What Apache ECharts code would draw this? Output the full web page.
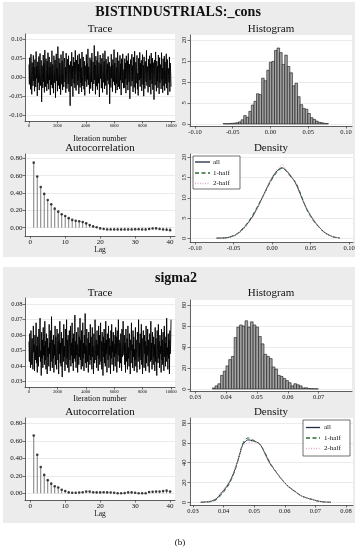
<!DOCTYPE html>
<html><head><meta charset="utf-8">
<script src="https://cdn.jsdelivr.net/npm/echarts@6/dist/echarts.min.js"></script>
<style>html,body{margin:0;padding:0;background:#fff}#c{width:358px;height:550px}</style>
</head><body><div id="c"></div>
<script>
// ---------------- DATA ----------------
const traceIterMax = 10000;
const trace1 = [
0.034,-0.018,0.052,0.006,-0.031,0.061,0.015,-0.044,0.039,0.008,
-0.022,0.058,-0.009,0.027,-0.036,0.047,0.011,-0.025,0.068,-0.002,
0.029,-0.048,0.041,0.018,-0.013,0.055,-0.033,0.024,0.063,-0.021,
0.007,0.045,-0.064,0.031,0.013,-0.027,0.059,-0.011,0.037,-0.039,
0.072,0.003,-0.024,0.049,0.021,-0.035,0.043,-0.016,0.065,0.009,
-0.031,0.054,-0.006,0.028,-0.046,0.040,0.016,-0.019,0.070,-0.028,
0.034,0.010,-0.041,0.057,0.019,-0.014,0.046,-0.053,0.030,0.062,
-0.009,0.025,-0.036,0.081,0.006,-0.021,0.050,-0.030,0.038,0.014,
-0.045,0.060,0.004,-0.018,0.044,-0.033,0.069,0.012,-0.025,0.036,
0.051,-0.012,0.027,-0.040,0.064,0.001,-0.029,0.048,0.020,-0.017,
0.057,-0.037,0.033,0.009,-0.074,0.042,0.017,-0.023,0.066,-0.004,
0.030,-0.050,0.053,0.013,-0.015,0.040,-0.027,0.071,0.005,-0.034,
0.046,0.022,-0.020,0.058,-0.008,0.035,-0.043,0.062,0.011,-0.026,
0.049,-0.014,0.026,-0.038,0.067,0.002,-0.022,0.054,0.018,-0.031,
0.043,-0.047,0.031,0.015,-0.010,0.060,-0.024,0.037,-0.005,0.075,
-0.019,0.028,0.008,-0.042,0.052,0.016,-0.029,0.047,-0.012,0.064,
0.003,-0.035,0.041,0.021,-0.017,0.084,-0.006,0.032,-0.044,0.056,
0.010,-0.023,0.045,-0.032,0.068,0.014,-0.015,0.039,-0.051,0.026,
0.059,-0.003,0.034,-0.028,0.050,0.007,-0.039,0.063,0.019,-0.013,
0.042,-0.030,0.070,0.001,-0.021,0.048,0.012,-0.045,0.036,-0.008,
0.055,0.024,-0.018,0.040,-0.069,0.029,0.013,-0.026,0.061,-0.002,
0.033,-0.037,0.047,0.017,-0.011,0.073,-0.020,0.038,0.006,-0.041,
0.052,-0.016,0.027,-0.033,0.066,0.009,-0.024,0.044,0.015,-0.030,
0.058,-0.007,0.036,-0.046,0.049,0.020,-0.014,0.062,0.003,-0.028,
0.021,-0.027,0.049,-0.004,0.038,-0.041,0.057,0.012,-0.019,0.044,
-0.033,0.063,0.005,-0.012,0.035,-0.056,0.028,0.047,-0.023,0.016,
0.061,-0.009,0.031,-0.038,0.053,0.002,-0.026,0.069,0.014,-0.042,
0.040,-0.015,0.026,0.058,-0.031,0.011,-0.047,0.050,0.019,-0.007,
0.066,-0.024,0.037,-0.002,0.045,-0.035,0.023,0.060,-0.018,0.032,
-0.049,0.054,0.008,-0.029,0.042,0.017,-0.011,0.071,-0.021,0.029,
0.004,-0.039,0.048,0.013,-0.025,0.057,-0.006,0.036,-0.044,0.064,
0.010,-0.017,0.051,-0.032,0.039,0.022,-0.058,0.046,0.001,-0.020,
0.067,0.015,-0.036,0.043,-0.010,0.030,-0.027,0.059,0.007,-0.043,
0.052,-0.014,0.034,0.018,-0.030,0.065,-0.005,0.025,-0.040,0.049,
0.012,-0.022,0.056,-0.034,0.041,0.003,-0.016,0.062,-0.028,0.033,
0.047,-0.046,0.024,0.009,-0.013,0.054,-0.037,0.038,0.016,-0.024
];
const trace2 = [
0.056,0.043,0.061,0.047,0.039,0.063,0.051,0.041,0.058,0.045,
0.038,0.066,0.049,0.054,0.037,0.060,0.044,0.052,0.068,0.042,
0.053,0.036,0.059,0.048,0.040,0.064,0.046,0.055,0.071,0.043,
0.050,0.034,0.062,0.045,0.057,0.039,0.065,0.047,0.053,0.041,
0.069,0.044,0.056,0.038,0.061,0.049,0.035,0.058,0.046,0.052,
0.040,0.067,0.048,0.055,0.037,0.063,0.043,0.072,0.050,0.039,
0.057,0.045,0.060,0.036,0.054,0.047,0.066,0.041,0.059,0.049,
0.038,0.064,0.052,0.044,0.061,0.035,0.056,0.048,0.069,0.042,
0.055,0.040,0.062,0.047,0.033,0.058,0.051,0.043,0.067,0.046,
0.053,0.037,0.064,0.049,0.041,0.070,0.045,0.057,0.039,0.060,
0.048,0.036,0.063,0.052,0.044,0.066,0.040,0.055,0.047,0.068,
0.042,0.058,0.037,0.061,0.050,0.045,0.073,0.043,0.056,0.039,
0.062,0.047,0.054,0.036,0.065,0.049,0.041,0.059,0.046,0.071,
0.044,0.057,0.038,0.063,0.051,0.040,0.068,0.045,0.055,0.037,
0.060,0.048,0.074,0.042,0.053,0.039,0.064,0.050,0.043,0.058,
0.036,0.062,0.047,0.055,0.041,0.067,0.044,0.059,0.049,0.038,
0.065,0.046,0.053,0.035,0.061,0.048,0.042,0.070,0.051,0.044,
0.057,0.039,0.063,0.047,0.054,0.037,0.066,0.045,0.060,0.041,
0.052,0.068,0.043,0.056,0.038,0.062,0.049,0.034,0.059,0.046,
0.064,0.042,0.055,0.040,0.069,0.048,0.057,0.036,0.061,0.050,
0.044,0.066,0.039,0.058,0.047,0.053,0.035,0.063,0.045,0.067,
0.041,0.056,0.049,0.062,0.037,0.060,0.046,0.054,0.040,0.065,
0.048,0.059,0.036,0.063,0.051,0.043,0.070,0.047,0.057,0.039,
0.055,0.042,0.061,0.049,0.037,0.064,0.046,0.053,0.069,0.050,
0.047,0.060,0.041,0.055,0.036,0.064,0.049,0.043,0.058,0.038,
0.066,0.045,0.052,0.040,0.061,0.047,0.035,0.057,0.050,0.068,
0.042,0.054,0.039,0.063,0.046,0.059,0.037,0.051,0.044,0.065,
0.040,0.057,0.048,0.036,0.062,0.053,0.043,0.070,0.046,0.055,
0.038,0.061,0.050,0.044,0.067,0.041,0.058,0.035,0.052,0.063,
0.045,0.039,0.060,0.048,0.056,0.037,0.066,0.042,0.053,0.047,
0.064,0.040,0.057,0.045,0.036,0.061,0.051,0.043,0.069,0.044,
0.055,0.038,0.062,0.049,0.041,0.059,0.046,0.054,0.037,0.065,
0.043,0.058,0.047,0.034,0.063,0.050,0.042,0.067,0.045,0.056,
0.039,0.060,0.048,0.053,0.036,0.064,0.044,0.057,0.041,0.062,
0.049,0.037,0.066,0.046,0.055,0.040,0.059,0.043,0.071,0.047,
0.052,0.038,0.061,0.045,0.057,0.035,0.063,0.048,0.054,0.070
];
const hist1Start = -0.061, hist1Width = 0.0034;
const hist1Heights = [0.1,0.05,0.1,0.15,0.2,0.3,0.5,1.0,2.0,1.6,3.0,4.5,5.4,7.2,7.0,10.9,10.3,12.8,14.7,14.9,17.5,18.1,17.0,14.2,16.4,13.7,12.2,9.1,9.7,6.5,4.6,3.7,3.5,2.5,1.5,1.1,0.7,0.4,0.3,0.15,0.1];
const hist2Start = 0.036, hist2Width = 0.00088;
const hist2Heights = [1,3,5,13,17,22,28,31,49,59,61,60,65,59,64,61,59,50,43,33,31,29,21,19,13,12,10,8,6,3,5,4,3,1,1.2,0.5,0.3,0.2,0.2];
const acLags = [1,2,3,4,5,6,7,8,9,10,11,12,13,14,15,16,17,18,19,20,21,22,23,24,25,26,27,28,29,30,31,32,33,34,35,36,37,38,39,40];
const ac1 = [0.75,0.59,0.47,0.39,0.32,0.27,0.22,0.185,0.155,0.135,0.11,0.09,0.08,0.075,0.065,0.05,0.03,0.015,0.005,-0.008,-0.015,-0.02,-0.02,-0.021,-0.02,-0.022,-0.02,-0.021,-0.02,-0.019,-0.018,-0.02,-0.02,-0.015,-0.01,-0.008,-0.015,-0.02,-0.025,-0.03];
const ac2 = [0.66,0.44,0.30,0.21,0.15,0.11,0.08,0.065,0.04,0.025,0.01,0.005,0.005,0.008,0.012,0.02,0.02,0.012,0.01,0.01,0.012,0.01,0.008,0.005,0.0,0.0,0.002,0.01,0.01,0.005,0.0,0.0,0.0,0.015,0.018,0.02,0.02,0.025,0.03,0.02];
const dens1X = [-0.072,-0.065,-0.06,-0.055,-0.05,-0.045,-0.04,-0.035,-0.03,-0.025,-0.02,-0.015,-0.01,-0.005,0,0.005,0.01,0.013,0.016,0.02,0.025,0.03,0.035,0.04,0.045,0.05,0.055,0.06,0.065,0.07,0.075,0.08,0.088];
const dens1All = [0.05,0.08,0.12,0.3,0.6,1.1,1.9,2.9,4.1,5.5,7.2,9.1,11.1,13.1,14.9,16.3,17.2,17.4,17.1,16.4,15.2,13.8,11.7,9.3,7.3,5.6,4.2,3.0,2.0,1.2,0.7,0.35,0.1];
const dens1H1 = [0.04,0.07,0.15,0.35,0.7,1.2,2.1,3.1,4.3,5.8,7.5,9.3,11.0,12.9,14.6,16.0,17.0,17.3,17.0,16.2,15.0,14.0,12.0,9.5,7.1,5.4,4.0,2.9,1.9,1.2,0.7,0.3,0.08];
const dens1H2 = [0.06,0.09,0.1,0.25,0.5,1.0,1.7,2.7,3.9,5.2,7.0,8.9,11.2,13.3,15.2,16.7,17.7,18.3,17.6,16.6,15.4,13.6,11.4,9.1,7.5,5.8,4.4,3.1,2.1,1.2,0.7,0.4,0.12];
const dens2X = [0.0325,0.034,0.036,0.0376,0.039,0.041,0.0425,0.044,0.0452,0.0462,0.047,0.048,0.0495,0.0517,0.0534,0.055,0.0566,0.0588,0.061,0.0632,0.0653,0.067,0.0686,0.0708,0.073,0.0751];
const dens2All = [0.3,0.6,1.4,3.7,8.5,16,24,36,48,58,61,63,62,59,50,40,33,24,16.6,11.5,6.8,4.7,3.4,1.4,0.6,0.2];
const dens2H1 = [0.2,0.4,1.0,2.8,7.0,14.5,23,35,48,59,63,65,63,59,51,41,33,24,16.4,11.2,6.9,4.8,3.3,1.5,0.6,0.2];
const dens2H2 = [0.4,0.8,1.8,4.5,10,17.5,25,37,48,57,59,60,61,59,49,39,33,24,16.8,11.8,6.7,4.6,3.5,1.3,0.6,0.2];
// tick labels
const traceXTicks = [0,2000,4000,6000,8000,10000];
const trace1YTicks = [-0.10,-0.05,0,0.05,0.10];
const trace2YTicks = [0.03,0.04,0.05,0.06,0.07,0.08];
const hist1XTicks = [-0.10,-0.05,0,0.05,0.10];
const hist1YTicks = [0,5,10,15,20];
const hist2XTicks = [0.03,0.04,0.05,0.06,0.07];
const hist2YTicks = [0,20,40,60,80];
const acXTicks = [0,10,20,30,40];
const acYTicks = [0,0.2,0.4,0.6,0.8];
const dens1XTicks = [-0.10,-0.05,0,0.05,0.10];
const dens1YTicks = [0,5,10,15,20];
const dens2XTicks = [0.03,0.04,0.05,0.06,0.07,0.08];
const dens2YTicks = [0,20,40,60,80];
const seriesNames = ['all','1-half','2-half'];

// ---------------- LAYOUT ----------------
const FONT = 'Liberation Serif';
const G = [
  {l:25,t:34,r:175,b:121},   // 0 trace1
  {l:190,t:35,r:352,b:126},  // 1 hist1
  {l:25,t:154,r:175,b:236},  // 2 ac1
  {l:190,t:154,r:353,b:242}, // 3 dens1
  {l:25,t:298,r:175,b:387},  // 4 trace2
  {l:190,t:300,r:352,b:391}, // 5 hist2
  {l:25,t:418,r:175,b:500},  // 6 ac2
  {l:190,t:418,r:353,b:505}  // 7 dens2
];
const grid = G.map(g => ({left:g.l, top:g.t, width:g.r-g.l, height:g.b-g.t, show:true, backgroundColor:'#fff', borderWidth:0}));
const AX = '#3a3a3a';
function xAx(gi, min, max, ticks, fmt, fs, name, nameGap, nameFs) {
  return {type:'value', gridIndex:gi, min, max, position:'bottom',
    axisLine:{show:true, onZero:false, lineStyle:{color:AX, width:0.8}},
    axisTick:{show:true, length:2.5, customValues:ticks, lineStyle:{color:AX, width:0.7}},
    axisLabel:{customValues:ticks, formatter:fmt, fontSize:fs, fontFamily:FONT, color:'#111', margin:2.5},
    splitLine:{show:false},
    name:name||'', nameLocation:'middle', nameGap:nameGap||10,
    nameTextStyle:{fontSize:nameFs||8, fontFamily:FONT, color:'#111'}};
}
function yAx(gi, min, max, ticks, fmt, fs, rot) {
  return {type:'value', gridIndex:gi, min, max, position:'left',
    axisLine:{show:true, onZero:false, lineStyle:{color:AX, width:0.8}},
    axisTick:{show:true, length:2.5, customValues:ticks, lineStyle:{color:AX, width:0.7}},
    axisLabel:{customValues:ticks, formatter:fmt, fontSize:fs, fontFamily:FONT, color:'#111', margin:2.5, rotate:rot||0},
    splitLine:{show:true, lineStyle:{color:'#e6e6e6', width:0.8}}};
}
const f2 = v => v.toFixed(2);
const f0 = v => String(Math.round(v));
const xAxis = [
  xAx(0, -280, 10280, traceXTicks, f0, 4.5, 'Iteration number', 14, 8),
  xAx(1, -0.1066, 0.108, hist1XTicks, f2, 6.5),
  xAx(2, -1.5, 41.4, acXTicks, f0, 7, 'Lag', 10, 7.5),
  xAx(3, -0.1065, 0.105, dens1XTicks, f2, 6.5),
  xAx(4, -280, 10280, traceXTicks, f0, 4.5, 'Iteration number', 7, 8),
  xAx(5, 0.0283, 0.0808, hist2XTicks, f2, 6.5),
  xAx(6, -1.5, 41.4, acXTicks, f0, 7, 'Lag', 10, 7.5),
  xAx(7, 0.029, 0.0823, dens2XTicks, f2, 6.5)
];
const yAxis = [
  yAx(0, -0.114, 0.114, trace1YTicks, f2, 6.5),
  yAx(1, -0.48, 21.2, hist1YTicks, f0, 6.5, 90),
  yAx(2, -0.0957, 0.85, acYTicks, f2, 7),
  yAx(3, -0.9, 20.8, dens1YTicks, f0, 6.5, 90),
  yAx(4, 0.0266, 0.084, trace2YTicks, f2, 6.5),
  yAx(5, -1.9, 84.8, hist2YTicks, f0, 6.5, 90),
  yAx(6, -0.077, 0.86, acYTicks, f2, 7),
  yAx(7, -2.5, 85, dens2YTicks, f0, 6.5, 90)
];

// ---------------- SERIES ----------------
function traceSeries(gi, vals) {
  const step = traceIterMax / (vals.length - 1);
  return {type:'line', xAxisIndex:gi, yAxisIndex:gi, data: vals.map((v,i)=>[i*step, v]),
    symbol:'none', lineStyle:{color:'#000', width:0.9}, animation:false, z:3};
}
function histSeries(gi, start, w, heights) {
  return {type:'custom', xAxisIndex:gi, yAxisIndex:gi,
    data: heights.map((h,i)=>[start+i*w-w/2, start+i*w+w/2, h]),
    encode:{x:[0,1], y:2},
    renderItem:(params, api) => {
      const p0 = api.coord([api.value(0), api.value(2)]);
      const p1 = api.coord([api.value(1), 0]);
      return {type:'rect', shape:{x:p0[0], y:p0[1], width:p1[0]-p0[0], height:p1[1]-p0[1]},
        style:{fill:'#a3a3a3', stroke:'#151515', lineWidth:0.6}};
    }, animation:false, z:3};
}
function acSeries(gi, vals) {
  return [
    {type:'custom', xAxisIndex:gi, yAxisIndex:gi, data: acLags.map((l,i)=>[l, vals[i]]),
      encode:{x:0, y:1},
      renderItem:(params, api) => {
        const a = api.coord([api.value(0), 0]);
        const b = api.coord([api.value(0), api.value(1)]);
        return {type:'line', shape:{x1:a[0], y1:a[1], x2:b[0], y2:b[1]}, style:{stroke:'#7d7d7d', lineWidth:1}};
      }, animation:false, z:3},
    {type:'scatter', xAxisIndex:gi, yAxisIndex:gi, data: acLags.map((l,i)=>[l, vals[i]]),
      symbol:'circle', symbolSize:2.6, itemStyle:{color:'#111'}, animation:false, z:4}
  ];
}
const densStyles = [
  {color:'#232a44', type:'solid', width:1},
  {color:'#2f6a35', type:[4,2.5], width:1},
  {color:'#e3a7c9', type:[1,1.5], width:1}
];
function densSeries(gi, xs, ys, k) {
  return {type:'line', name:seriesNames[k], xAxisIndex:gi, yAxisIndex:gi, data: xs.map((x,i)=>[x, ys[i]]),
    symbol:'none', smooth:0.35, lineStyle:densStyles[k], animation:false, z:3+k};
}
const series = [
  traceSeries(0, trace1),
  histSeries(1, hist1Start, hist1Width, hist1Heights),
  ...acSeries(2, ac1),
  densSeries(3, dens1X, dens1All, 0), densSeries(3, dens1X, dens1H1, 1), densSeries(3, dens1X, dens1H2, 2),
  traceSeries(4, trace2),
  histSeries(5, hist2Start, hist2Width, hist2Heights),
  ...acSeries(6, ac2),
  densSeries(7, dens2X, dens2All, 0), densSeries(7, dens2X, dens2H1, 1), densSeries(7, dens2X, dens2H2, 2)
];

// ---------------- GRAPHICS (panels, titles, legends) ----------------
function txt(x, y, s, size, bold) {
  return {type:'text', x, y, z:20, style:{text:s, x:0, y:0, align:'center', verticalAlign:'middle',
    fontSize:size, fontFamily:FONT, fontWeight:bold?'bold':'normal', fill:'#111'}};
}
function legendBox(x, y, w, h, rows, lx1, lx2, tx) {
  const els = [{type:'rect', z:20, shape:{x, y, width:w, height:h}, style:{fill:'#fff', stroke:'#333', lineWidth:0.7}}];
  rows.forEach((ry, k) => {
    const st = densStyles[k];
    els.push({type:'line', z:21, shape:{x1:lx1, y1:ry, x2:lx2, y2:ry},
      style:{stroke:st.color, lineWidth:1.3, lineDash: st.type==='solid'?null:st.type}});
    els.push({type:'text', z:21, x:tx, y:ry, style:{text:seriesNames[k], x:0, y:0, align:'left', verticalAlign:'middle',
      fontSize:7, fontFamily:FONT, fill:'#111'}});
  });
  return els;
}
const graphic = [
  {type:'rect', z:-5, shape:{x:3, y:2, width:352, height:255}, style:{fill:'#ececec'}},
  {type:'rect', z:-5, shape:{x:3, y:267, width:352, height:256}, style:{fill:'#ececec'}},
  txt(178, 12, 'BISTINDUSTRIALS:_cons', 14, true),
  txt(100, 29, 'Trace', 11), txt(271, 29, 'Histogram', 11),
  txt(100, 148, 'Autocorrelation', 11), txt(271, 148, 'Density', 11),
  txt(176, 278, 'sigma2', 14, true),
  txt(100, 293, 'Trace', 11), txt(271, 293, 'Histogram', 11),
  txt(100, 412, 'Autocorrelation', 11), txt(271, 412, 'Density', 11),
  txt(180, 543, '(b)', 9),
  ...legendBox(193, 156, 47, 33, [162, 173, 183.5], 195, 210, 213),
  ...legendBox(303, 420, 47, 36, [427.5, 438, 448.5], 306, 320, 324)
];

const chart = echarts.init(document.getElementById('c'), null, {renderer:'canvas', width:358, height:550});
chart.setOption({backgroundColor:'#fff', animation:false, grid, xAxis, yAxis, series, graphic});
</script></body></html>
